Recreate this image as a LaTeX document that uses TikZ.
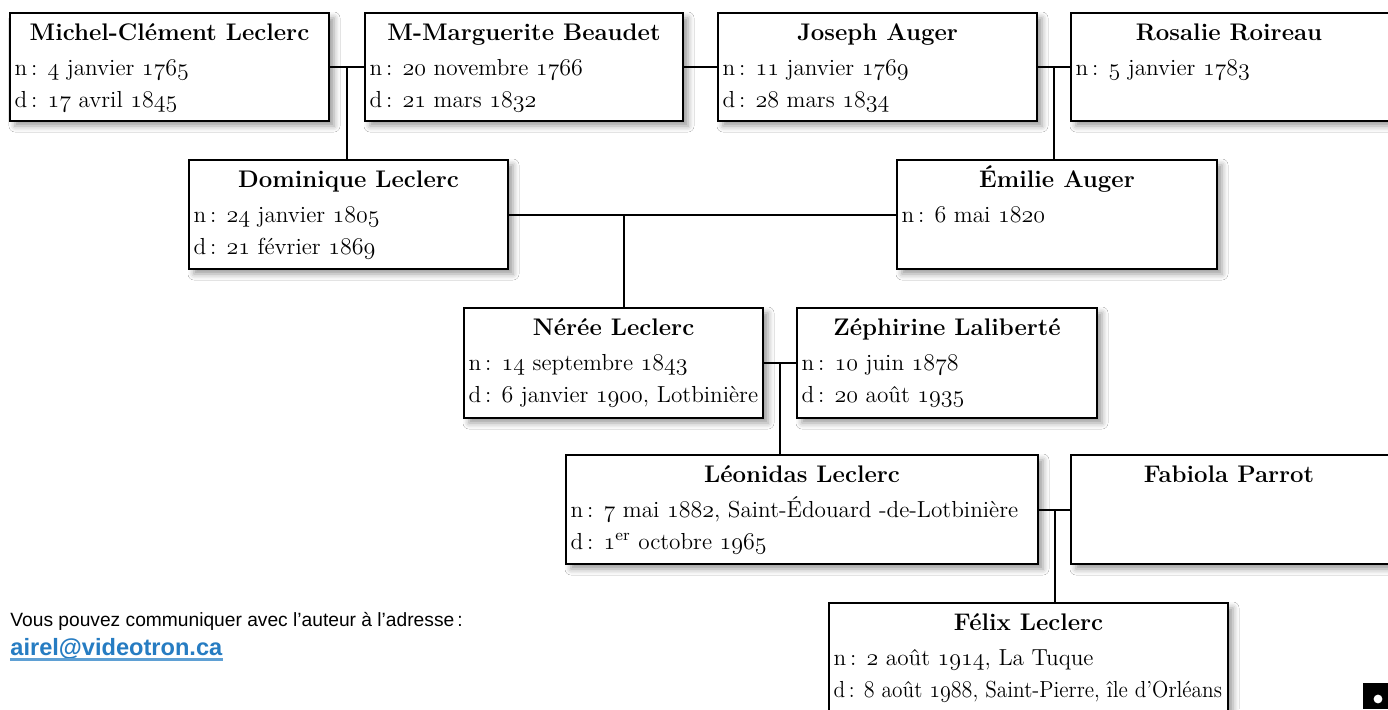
\documentclass[tikz,border=0pt]{standalone}
\usepackage{fontspec}
\usepackage{graphicx}
\newfontfamily\sansf{Liberation Sans}
\usetikzlibrary{shadows.blur,calc}
\definecolor{lnkblue}{RGB}{38,124,194}
\definecolor{ulblue}{RGB}{95,160,212}
\newcommand\osn[1]{{\usefont{OML}{cmm}{m}{it}#1}}
\newcommand\st{\rule{0pt}{12pt}}
\tikzset{
  pbox/.style={draw=black, line width=1.3pt, fill=white, inner sep=0pt,
    blur shadow={shadow xshift=2.5pt, shadow yshift=-2.5pt, shadow blur radius=3pt, shadow opacity=40}},
  nmtext/.style={inner sep=0pt, anchor=base, font=\fontsize{12}{16}\selectfont\bfseries},
  ptext/.style={inner sep=0pt, align=left, anchor=north west,
    font=\fontsize{11.6}{16}\selectfont},
  link/.style={line width=1pt, draw=black}
}
\begin{document}
\begin{tikzpicture}[x=0.5pt,y=-0.5pt]
\fill[white] (0,0) rectangle (1388,709);
\useasboundingbox (0,0) rectangle (1388,709);
% boxes
\node[pbox, minimum width=159.5pt, minimum height=54pt] (mc) at (169.5,67) {};
\node[pbox, minimum width=159pt, minimum height=54pt] (mb) at (524,67) {};
\node[pbox, minimum width=159.5pt, minimum height=54pt] (ja) at (877.5,67) {};
\node[pbox, minimum width=162pt, minimum height=54pt] (rr) at (1233,67) {};
\node[pbox, minimum width=159.5pt, minimum height=54.5pt] (dl) at (348.5,214.5) {};
\node[pbox, minimum width=160pt, minimum height=54.5pt] (ea) at (1057,214.5) {};
\node[pbox, minimum width=149.5pt, minimum height=55pt] (nl) at (613.5,363) {};
\node[pbox, minimum width=150pt, minimum height=55pt] (zl) at (947,363) {};
\node[pbox, minimum width=236pt, minimum height=54.5pt] (ll) at (802,509.5) {};
\node[pbox, minimum width=162pt, minimum height=54.5pt] (fp) at (1233,509.5) {};
\node[pbox, minimum width=199.5pt, minimum height=58.5pt] (fl) at (1028.5,661.5) {};
% names
\node[nmtext] (mcn) at ([yshift=-14.5pt]mc.north) {Michel-Clément Leclerc};
\node[nmtext] (mbn) at ([yshift=-14.5pt]mb.north) {M-Marguerite Beaudet};
\node[nmtext] (jan) at ([yshift=-14.5pt]ja.north) {Joseph Auger};
\node[nmtext] (rrn) at ([xshift=-2pt,yshift=-14.5pt]rr.north) {Rosalie Roireau};
\node[nmtext] (dln) at ([yshift=-14.5pt]dl.north) {Dominique Leclerc};
\node[nmtext] (ean) at ([yshift=-14.5pt]ea.north) {Émilie Auger};
\node[nmtext] (nln) at ([yshift=-14.5pt]nl.north) {Nérée Leclerc};
\node[nmtext] (zln) at ([yshift=-14.5pt]zl.north) {Zéphirine Laliberté};
\node[nmtext] (lln) at ([yshift=-14.5pt]ll.north) {Léonidas Leclerc};
\node[nmtext] (fpn) at ([xshift=-2pt,yshift=-14.5pt]fp.north) {Fabiola Parrot};
\node[nmtext] (fln) at ([yshift=-14.5pt]fl.north) {Félix Leclerc};
% dates
\node[ptext] (mct) at ([xshift=2.8pt,yshift=-19.5pt]mc.north west)
  {\st n\,: \osn{4} janvier \osn{1765}\\ d\,: \osn{17} avril \osn{1845}};
\node[ptext] (mbt) at ([xshift=2.8pt,yshift=-19.5pt]mb.north west)
  {\st n\,: \osn{20} novembre \osn{1766}\\ d\,: \osn{21} mars \osn{1832}};
\node[ptext] (jat) at ([xshift=2.8pt,yshift=-19.5pt]ja.north west)
  {\st n\,: \osn{11} janvier \osn{1769}\\ d\,: \osn{28} mars \osn{1834}};
\node[ptext] (rrt) at ([xshift=2.8pt,yshift=-19.5pt]rr.north west)
  {\st n\,: \osn{5} janvier \osn{1783}};
\node[ptext] (dlt) at ([xshift=2.8pt,yshift=-19.5pt]dl.north west)
  {\st n\,: \osn{24} janvier \osn{1805}\\ d\,: \osn{21} février \osn{1869}};
\node[ptext] (eat) at ([xshift=2.8pt,yshift=-19.5pt]ea.north west)
  {\st n\,: \osn{6} mai \osn{1820}};
\node[ptext] (nlt) at ([xshift=2.8pt,yshift=-19.5pt]nl.north west)
  {\st n\,: \osn{14} septembre \osn{1843}\\ d\,: \osn{6} janvier \osn{1900}, Lotbinière};
\node[ptext] (zlt) at ([xshift=2.8pt,yshift=-19.5pt]zl.north west)
  {\st n\,: \osn{10} juin \osn{1878}\\ d\,: \osn{20} août \osn{1935}};
\node[ptext] (llt) at ([xshift=2.8pt,yshift=-19.5pt]ll.north west)
  {\st n\,: \osn{7} mai \osn{1882}, Saint-Édouard -de-Lotbinière\\ d\,: \osn{1}\textsuperscript{er} octobre \osn{1965}};
\node[ptext] (flt) at ([xshift=2.8pt,yshift=-19.5pt]fl.north west)
  {\st n\,: \osn{2} août \osn{1914}, La Tuque\\ \scalebox{0.92}[1]{d\,: \osn{8} août \osn{1988}, Saint-Pierre, île d’Orléans}};
% connectors
\draw[link] (mc.east) -- (mb.west) coordinate[pos=0.5] (j1);
\draw[link] (j1) -- (j1 |- dl.north);
\draw[link] (mb.east) -- (ja.west);
\draw[link] (ja.east) -- (rr.west) coordinate[pos=0.5] (j4);
\draw[link] (j4) -- (j4 |- ea.north);
\draw[link] (dl.east) -- (ea.west) coordinate[pos=0.296] (j2);
\draw[link] (j2) -- (j2 |- nl.north);
\draw[link] (nl.east) -- (zl.west) coordinate[pos=0.5] (j3);
\draw[link] (j3) -- (j3 |- ll.north);
\draw[link] (ll.east) -- (fp.west) coordinate[pos=0.5] (j5);
\draw[link] (j5) -- (j5 |- fl.north);
% footer
\node[anchor=base west, inner sep=0pt, font=\sansf\fontsize{9.6}{11}\selectfont] (msg) at (10,626)
  {Vous pouvez communiquer avec l’auteur à l’adresse\,:};
\node[anchor=base west, inner sep=0pt, font=\sansf\bfseries\fontsize{11.8}{13}\selectfont, text=lnkblue] (mail) at (10,655)
  {airel@videotron.ca};
\draw[ulblue, line width=1.2pt] ([yshift=-2.2pt]mail.base west) -- ([yshift=-2.2pt]mail.base east);
% corner mark
\fill[black] (1363,683) rectangle (1388,709);
\fill[white] (1378,699) circle[radius=2.2pt];
\end{tikzpicture}
\end{document}
